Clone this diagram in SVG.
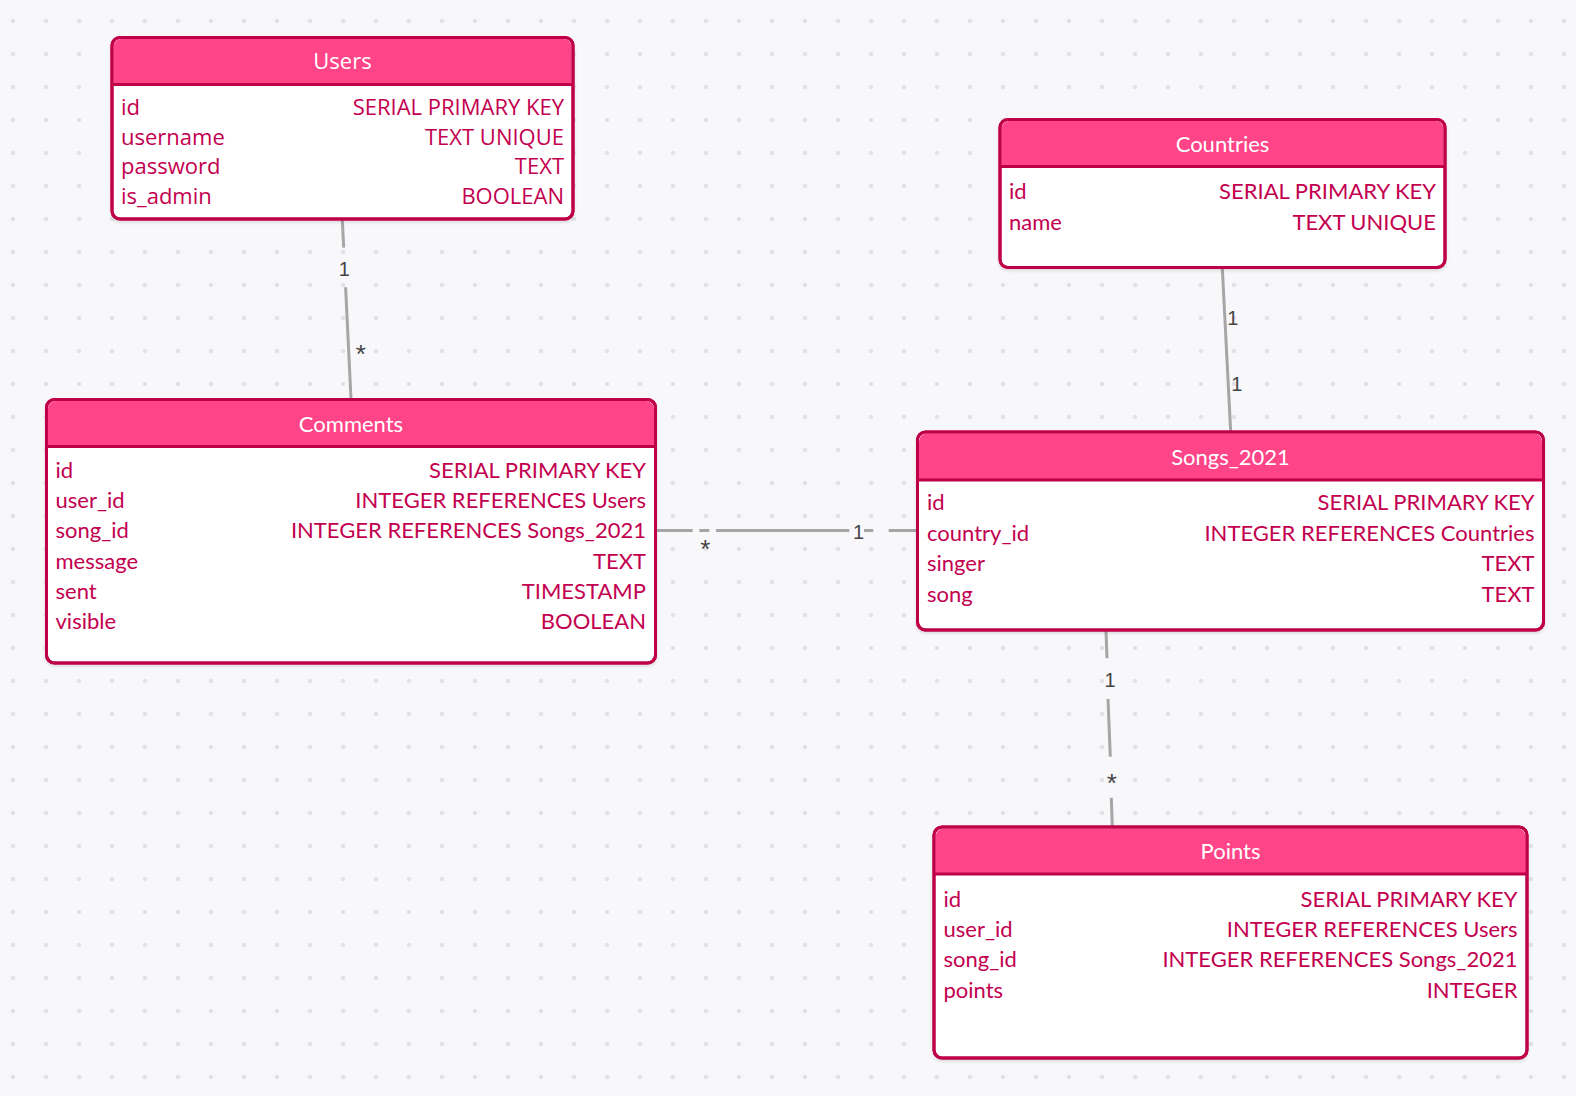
<svg xmlns="http://www.w3.org/2000/svg" width="1576" height="1096" viewBox="0 0 1576 1096">
<defs>
<pattern id="dots" x="0" y="0" width="33" height="33" patternUnits="userSpaceOnUse">
<circle cx="13" cy="21" r="2.3" fill="#e1e1e6"/>
</pattern>
<filter id="sh" x="-5%" y="-5%" width="110%" height="115%">
<feDropShadow dx="0" dy="2" stdDeviation="1.5" flood-color="#000" flood-opacity="0.12"/>
</filter>
<style>
.box{fill:#ffffff;stroke:#bf0049;stroke-width:3;filter:url(#sh)}
.hdr{fill:#ff4488}
.sep{stroke:#bf0049;stroke-width:3}
.title{font-family:Lato,"Liberation Sans",sans-serif;font-size:22px;fill:#ffffff;text-anchor:middle}
.f{font-family:Lato,"Liberation Sans",sans-serif;font-size:22px;fill:#c3004f}
.t{font-family:Lato,"Liberation Sans",sans-serif;font-size:22px;fill:#c3004f;text-anchor:end}
#users text{font-family:"Open Sans","Liberation Sans",sans-serif}
.conn line{stroke:#a6a6a6;stroke-width:3;fill:none}
.lbl{font-family:"Liberation Sans",Arial,sans-serif;font-size:20px;fill:#444444;text-anchor:middle}
.ast{font-family:"Liberation Sans",Arial,sans-serif;font-size:26px;fill:#444444;text-anchor:middle}
</style>
</defs>
<rect x="0" y="0" width="1576" height="1096" fill="#f8f8fb"/>
<rect x="0" y="0" width="1576" height="1096" fill="url(#dots)"/>

<g id="connectors" class="conn">
<line x1="342.3" y1="220" x2="343.7" y2="247.7"/>
<line x1="345.6" y1="287.3" x2="351" y2="399"/>
<line x1="655" y1="530.5" x2="692.7" y2="530.5"/>
<line x1="699.3" y1="530.5" x2="709.3" y2="530.5"/>
<line x1="716" y1="530.5" x2="849.3" y2="530.5"/>
<line x1="864" y1="530.5" x2="873.3" y2="530.5"/>
<line x1="888.7" y1="530.5" x2="917" y2="530.5"/>
<line x1="1222.3" y1="268" x2="1230.7" y2="432"/>
<line x1="1106" y1="631" x2="1107" y2="658.3"/>
<line x1="1108" y1="699" x2="1110.3" y2="756.7"/>
<line x1="1111.3" y1="797.7" x2="1112.3" y2="827"/>
<text class="lbl" x="344.3" y="276">1</text>
<text class="ast" x="360.7" y="362.5">*</text>
<text class="ast" x="705.3" y="558">*</text>
<text class="lbl" x="858.5" y="538.5">1</text>
<text class="lbl" x="1232.7" y="325">1</text>
<text class="lbl" x="1236.7" y="390.7">1</text>
<text class="lbl" x="1110" y="686.7">1</text>
<text class="ast" x="1111.7" y="791.5">*</text>
</g>

<g id="users">
<rect class="box" x="112" y="37.5" width="461" height="181.5" rx="8"/>
<path class="hdr" d="M113.5,47 a8,8 0 0 1 8,-8 h442 a8,8 0 0 1 8,8 v37 h-458 z"/>
<rect x="112" y="37.5" width="461" height="181.5" rx="8" fill="none" stroke="#bf0049" stroke-width="3"/>
<line class="sep" x1="112" y1="84.5" x2="573" y2="84.5"/>
<text class="title" x="342.5" y="69">Users</text>
<text class="f" x="121" y="115">id</text><text class="t" x="564" y="115">SERIAL PRIMARY KEY</text>
<text class="f" x="121" y="144.5">username</text><text class="t" x="564" y="144.5">TEXT UNIQUE</text>
<text class="f" x="121" y="174">password</text><text class="t" x="564" y="174">TEXT</text>
<text class="f" x="121" y="203.5">is_admin</text><text class="t" x="564" y="203.5">BOOLEAN</text>
</g>

<g id="countries">
<rect class="box" x="1000" y="119.5" width="445" height="148" rx="8"/>
<path class="hdr" d="M1001.5,129 a8,8 0 0 1 8,-8 h426 a8,8 0 0 1 8,8 v37 h-442 z"/>
<rect x="1000" y="119.5" width="445" height="148" rx="8" fill="none" stroke="#bf0049" stroke-width="3"/>
<line class="sep" x1="1000" y1="166.5" x2="1445" y2="166.5"/>
<text class="title" x="1222.5" y="151.5">Countries</text>
<text class="f" x="1009" y="199.3">id</text><text class="t" x="1436" y="199.3">SERIAL PRIMARY KEY</text>
<text class="f" x="1009" y="229.5">name</text><text class="t" x="1436" y="229.5">TEXT UNIQUE</text>
</g>

<g id="comments">
<rect class="box" x="46.5" y="399.5" width="609" height="263.5" rx="8"/>
<path class="hdr" d="M48,409 a8,8 0 0 1 8,-8 h590 a8,8 0 0 1 8,8 v37 h-606 z"/>
<rect x="46.5" y="399.5" width="609" height="263.5" rx="8" fill="none" stroke="#bf0049" stroke-width="3"/>
<line class="sep" x1="46.5" y1="446.5" x2="655.5" y2="446.5"/>
<text class="title" x="351" y="431.5">Comments</text>
<text class="f" x="55.5" y="477.7">id</text><text class="t" x="646" y="477.7">SERIAL PRIMARY KEY</text>
<text class="f" x="55.5" y="508">user_id</text><text class="t" x="646" y="508">INTEGER REFERENCES Users</text>
<text class="f" x="55.5" y="538.3">song_id</text><text class="t" x="646" y="538.3">INTEGER REFERENCES Songs_2021</text>
<text class="f" x="55.5" y="568.6">message</text><text class="t" x="646" y="568.6">TEXT</text>
<text class="f" x="55.5" y="598.9">sent</text><text class="t" x="646" y="598.9">TIMESTAMP</text>
<text class="f" x="55.5" y="629.2">visible</text><text class="t" x="646" y="629.2">BOOLEAN</text>
</g>

<g id="songs_2021">
<rect class="box" x="917.5" y="432" width="626" height="198" rx="8"/>
<path class="hdr" d="M919,441.5 a8,8 0 0 1 8,-8 h607 a8,8 0 0 1 8,8 v38 h-623 z"/>
<rect x="917.5" y="432" width="626" height="198" rx="8" fill="none" stroke="#bf0049" stroke-width="3"/>
<line class="sep" x1="917.5" y1="480" x2="1543.5" y2="480"/>
<text class="title" x="1230.5" y="464.5">Songs_2021</text>
<text class="f" x="927" y="510.3">id</text><text class="t" x="1534.5" y="510.3">SERIAL PRIMARY KEY</text>
<text class="f" x="927" y="540.7">country_id</text><text class="t" x="1534.5" y="540.7">INTEGER REFERENCES Countries</text>
<text class="f" x="927" y="571.1">singer</text><text class="t" x="1534.5" y="571.1">TEXT</text>
<text class="f" x="927" y="601.5">song</text><text class="t" x="1534.5" y="601.5">TEXT</text>
</g>

<g id="points">
<rect class="box" x="934" y="827" width="593" height="231" rx="8"/>
<path class="hdr" d="M935.5,836.5 a8,8 0 0 1 8,-8 h574 a8,8 0 0 1 8,8 v37 h-590 z"/>
<rect x="934" y="827" width="593" height="231" rx="8" fill="none" stroke="#bf0049" stroke-width="3"/>
<line class="sep" x1="934" y1="874" x2="1527" y2="874"/>
<text class="title" x="1230.5" y="859">Points</text>
<text class="f" x="943.5" y="906.7">id</text><text class="t" x="1517.5" y="906.7">SERIAL PRIMARY KEY</text>
<text class="f" x="943.5" y="937">user_id</text><text class="t" x="1517.5" y="937">INTEGER REFERENCES Users</text>
<text class="f" x="943.5" y="967.3">song_id</text><text class="t" x="1517.5" y="967.3">INTEGER REFERENCES Songs_2021</text>
<text class="f" x="943.5" y="997.6">points</text><text class="t" x="1517.5" y="997.6">INTEGER</text>
</g>
</svg>
